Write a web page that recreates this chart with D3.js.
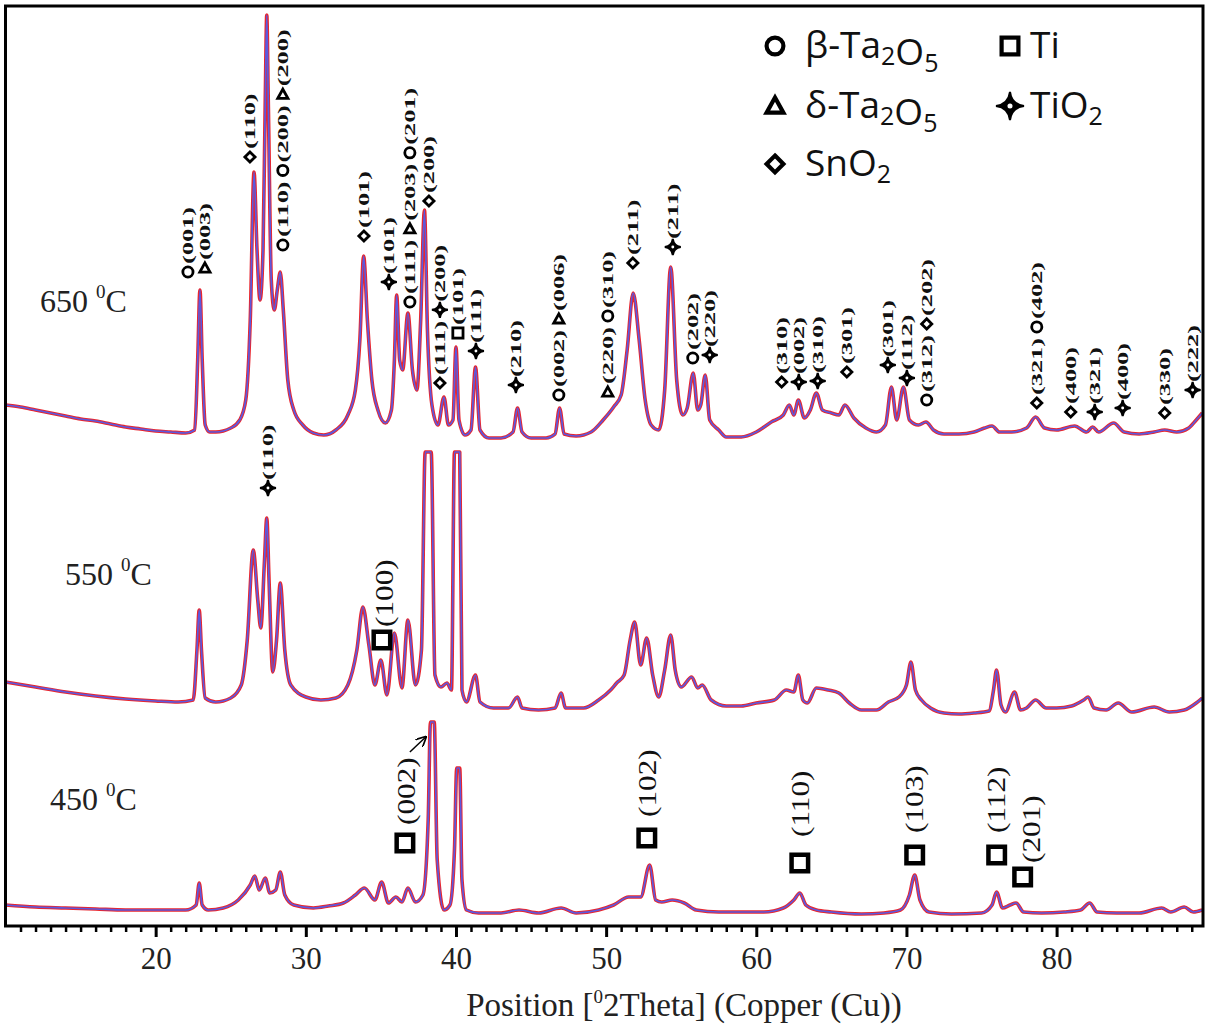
<!DOCTYPE html>
<html>
<head>
<meta charset="utf-8">
<script src="https://cdn.jsdelivr.net/npm/d3@7"></script>
<style>
    body { margin: 0; background: #fff; }
</style>
</head>
<body>
<div id="chart"></div>
<script>
// ---- data: [2theta, intensity (a.u.)] ----
const trace650 = [[10,35],[11,33],[12,30],[13,27],[14,24],[15,21],[16,19],[17,16],[18,13],[19,11],[20,9],[21,8],[22,7],
    [22.6,10],[22.8,80],[22.95,150],[23.1,80],[23.3,15],[23.6,8],[24,8],[25,12],[25.6,20],[26,40],[26.3,120],[26.55,268],
    [26.75,190],[26.95,140],[27.15,190],[27.3,340],[27.4,425],[27.5,340],[27.7,160],[27.9,130],[28.1,150],[28.3,168],
    [28.5,130],[28.8,60],[29.2,30],[29.8,15],[30.5,7],[31.2,5],[32,10],[32.8,25],[33.3,50],[33.6,100],[33.85,184],
    [34.1,120],[34.4,60],[34.8,30],[35.3,17],[35.7,30],[35.9,80],[36.05,145],[36.25,80],[36.45,70],[36.8,127],[37.1,70],
    [37.4,50],[37.65,120],[37.9,230],[38.1,110],[38.4,35],[38.8,15],[39.2,43],[39.5,15],[39.8,20],[40,93],[40.2,20],
    [40.6,5],[41,10],[41.3,73],[41.6,10],[42.2,2],[43,2],[43.8,8],[44.1,32],[44.4,8],[45,2],[46,2],[46.6,6],[46.9,32],
    [47.2,6],[48,4],[49,8],[49.8,20],[50.5,33],[51,45],[51.4,90],[51.8,147],[52.2,100],[52.6,40],[53,15],[53.5,10],
    [53.9,50],[54.3,173],[54.7,60],[55.1,25],[55.4,32],[55.8,67],[56.1,30],[56.3,35],[56.6,65],[56.9,20],[57.5,10],
    [58,3],[59,3],[60,8],[61,18],[61.8,25],[62.2,35],[62.5,25],[62.8,40],[63.2,22],[63.6,30],[64,47],[64.4,30],[65,27],
    [65.5,25],[65.9,35],[66.5,22],[67.3,12],[68,8],[68.6,15],[69,53],[69.35,20],[69.8,53],[70.2,20],[70.8,15],[71.3,18],
    [71.8,10],[72.5,6],[73.5,6],[74.5,8],[75.2,12],[75.7,14],[76.2,8],[77,8],[78,12],[78.6,23],[79.2,12],[80,10],
    [81.2,14],[82,8],[82.4,13],[82.8,8],[83.8,17],[84.5,8],[85.5,6],[86.5,8],[87.2,10],[88,8],[88.8,12],[89.3,20],[89.7,27]];

const trace550 = [[10,38],[12,33],[14,28],[16,24],[18,21],[20,19],[21.5,18],[22.5,20],[22.75,70],[22.9,110],[23.05,70],
    [23.3,22],[24,18],[25,22],[25.7,35],[26.1,80],[26.5,170],[26.8,120],[27,92],[27.25,160],[27.4,202],[27.55,140],
    [27.8,48],[28.05,80],[28.3,137],[28.6,70],[29,35],[30,23],[31,20],[32,22],[32.8,35],[33.4,70],[33.8,113],[34.2,75],
    [34.6,35],[35,60],[35.4,25],[35.9,87],[36.4,32],[36.8,100],[37.3,35],[37.7,70],[37.95,268],[38.35,268],[38.6,45],
    [39,33],[39.4,37],[39.7,30],[39.9,268],[40.25,268],[40.4,30],[40.7,18],[41.3,45],[41.6,18],[42.5,12],[43.5,12],
    [44.1,23],[44.4,12],[45.5,10],[46.6,12],[47,27],[47.3,12],[48.5,12],[49.5,20],[50.3,30],[50.7,37],[51.2,45],
    [51.6,80],[51.9,98],[52.3,55],[52.7,82],[53.1,45],[53.5,23],[53.9,50],[54.3,85],[54.6,50],[55,33],[55.7,43],
    [56.1,32],[56.4,35],[57,20],[58,14],[59,14],[60,17],[61.2,20],[62,30],[62.5,28],[62.8,45],[63.1,20],[63.4,17],
    [64,32],[64.8,30],[65.5,27],[66.2,17],[67,10],[68,10],[68.8,18],[69.5,23],[70,35],[70.3,58],[70.6,30],[71,20],
    [71.6,12],[72.5,7],[73.5,6],[74.5,7],[75.5,9],[75.8,30],[76,50],[76.3,15],[76.6,8],[77.2,28],[77.6,10],[78,12],
    [78.6,20],[79.3,12],[80,12],[81,14],[81.8,20],[82.1,23],[82.5,12],[83.3,10],[84.1,17],[85,8],[86.5,13],[87.5,8],
    [88.5,10],[89.3,17],[89.7,22]];

const trace450 = [[10,15],[12,13],[14,12],[16,11],[18,10],[20,10],[22,10],[22.7,15],[22.9,37],[23.1,15],[23.5,10],
    [24.5,12],[25.5,20],[26.3,35],[26.6,44],[26.9,30],[27.3,42],[27.6,27],[28,30],[28.3,48],[28.6,25],[29.2,15],
    [30.5,12],[31.5,14],[32.5,17],[33.3,25],[33.9,32],[34.6,20],[35.05,38],[35.5,17],[36,23],[36.4,18],[36.8,32],
    [37.3,18],[37.8,25],[38.15,100],[38.3,198],[38.55,198],[38.75,60],[39.2,10],[39.6,15],[39.9,70],[40.05,152],
    [40.25,152],[40.4,40],[40.7,10],[41.5,7],[43,7],[44.2,10],[45.5,7],[47,12],[48,7],[49.5,10],[50.5,15],[51.5,23],
    [52.3,23],[52.9,55],[53.3,20],[53.7,18],[54.4,20],[55.2,17],[56,10],[57.5,8],[59,8],[60.5,8],[61.8,12],[62.5,20],
    [62.9,27],[63.3,15],[64,10],[65,8],[67,6],[68.5,7],[69.6,10],[70.2,25],[70.55,45],[70.9,20],[71.5,8],[73,6],[75,7],
    [75.7,15],[76,28],[76.4,12],[76.9,15],[77.3,17],[77.8,8],[79,7],[80.5,8],[81.6,10],[82.2,17],[82.7,8],[84,7],
    [85.5,7],[87,12],[87.6,8],[88.5,13],[89.1,8],[89.7,10]];

const traces = [trace650, trace550, trace450];
const traceOffsets = [486, 206, 6];           // vertical stacking offsets (a.u.)
const tempNames = ["650", "550", "450"];
const tempPos = [[12.3, 614], [13.96, 341], [12.96, 116]];   // [2theta, level]

const majorTicks = [20, 30, 40, 50, 60, 70, 80];

// peak labels: [2theta, level of lowest symbol, [[phase symbol, hkl], ...]]
const peakLabels = [
    [22.15, 654, [["circle", "(001)"]]],
    [23.28, 658, [["triangle", "(003)"]]],
    [26.28, 769, [["diamond", "(110)"]]],
    [28.47, 681, [["circle", "(110)"], ["circle", "(200)"], ["triangle", "(200)"]]],
    [33.87, 690, [["diamond", "(101)"]]],
    [35.53, 644, [["star", "(101)"]]],
    [36.93, 624, [["circle", "(111)"], ["triangle", "(203)"], ["circle", "(201)"]]],
    [38.2, 725, [["diamond", "(200)"]]],
    [38.93, 543, [["diamond", "(111)"], ["star", "(200)"]]],
    [40.13, 593, [["square", "(101)"]]],
    [41.33, 575, [["star", "(111)"]]],
    [43.99, 541, [["star", "(210)"]]],
    [46.85, 531, [["circle", "(002)"], ["triangle", "(006)"]]],
    [50.11, 534, [["triangle", "(220)"], ["circle", "(310)"]]],
    [51.78, 663, [["diamond", "(211)"]]],
    [54.44, 679, [["star", "(211)"]]],
    [55.77, 568, [["circle", "(202)"]]],
    [56.9, 571, [["star", "(220)"]]],
    [61.69, 544, [["diamond", "(310)"]]],
    [62.83, 544, [["star", "(002)"]]],
    [64.09, 545, [["star", "(310)"]]],
    [66.03, 554, [["diamond", "(301)"]]],
    [68.76, 561, [["star", "(301)"]]],
    [70.03, 548, [["star", "(112)"]]],
    [71.35, 526, [["circle", "(312)"], ["diamond", "(202)"]]],
    [78.68, 523, [["diamond", "(321)"], ["circle", "(402)"]]],
    [80.94, 514, [["diamond", "(400)"]]],
    [82.54, 514, [["star", "(321)"]]],
    [84.4, 518, [["star", "(400)"]]],
    [87.2, 513, [["diamond", "(330)"]]],
    [89.06, 536, [["star", "(222)"]]],
    [27.48, 438, [["star", "(110)"]]]
];

// Ti labels on 550 / 450: [2theta square, level square, 2theta text, level text start, hkl]
const tiLabels = [
    [35.07, 286, 35.2, 299, "(100)"],
    [36.6, 83, 36.67, 101, "(002)"],
    [52.71, 88, 52.71, 109, "(102)"],
    [62.9, 63, 62.9, 89, "(110)"],
    [70.55, 71, 70.55, 93, "(103)"],
    [76.01, 71, 76.01, 93, "(112)"],
    [77.74, 49, 78.34, 63, "(201)"]
];
const arrow002 = [[36.93, 174], [37.99, 189]];

const legendSymbols = ["circle", "square", "triangle", "star", "diamond"];
const legendNames = ["β-Ta_2O_5", "Ti", "δ-Ta_2O_5", "TiO_2", "SnO_2"];

// ---- chart ----
const W = 1209, H = 1029;
const plot = {left: 5.5, right: 1203, top: 6, bottom: 926};

const svg = d3.select("#chart").append("svg")
    .attr("width", W)
    .attr("height", H);

const x = d3.scaleLinear().domain([10, 89.75]).range([plot.left, plot.right]);
const y = d3.scaleLinear().domain([0, 920]).range([plot.bottom, plot.top]);

svg.append("clipPath").attr("id", "clip")
    .append("rect")
    .attr("x", plot.left).attr("y", plot.top)
    .attr("width", plot.right - plot.left).attr("height", plot.bottom - plot.top);

// traces: red measured pattern under blue fit
const traceG = svg.append("g").attr("clip-path", "url(#clip)");
traces.forEach((tr, i) => {
    let line = d3.line()
        .curve(d3.curveMonotoneX)
        .x(d => x(d[0]))
        .y(d => y(d[1] + traceOffsets[i]));
    traceG.append("path").datum(tr)
        .attr("d", line)
        .attr("fill", "none")
        .attr("stroke", "#e8262e")
        .attr("stroke-width", 3.6)
        .attr("stroke-linejoin", "round");
    traceG.append("path").datum(tr)
        .attr("d", line)
        .attr("fill", "none")
        .attr("stroke", "#5a5ae0")
        .attr("stroke-width", 1.7)
        .attr("stroke-linejoin", "round");
});

// x axis with minor ticks every degree
const minorTicks = d3.range(11, 90).filter(v => v % 10 !== 0);
svg.append("g")
    .attr("transform", `translate(0, ${plot.bottom})`)
    .call(d3.axisBottom(x).tickValues(minorTicks).tickSize(6).tickFormat(""))
    .call(g => g.select(".domain").remove())
    .call(g => g.selectAll("line").attr("stroke", "#000").attr("stroke-width", 2.5));

svg.append("g")
    .attr("transform", `translate(0, ${plot.bottom})`)
    .call(d3.axisBottom(x).tickValues(majorTicks).tickSize(11).tickPadding(10))
    .call(g => g.select(".domain").remove())
    .call(g => g.selectAll("line").attr("stroke", "#000").attr("stroke-width", 3))
    .call(g => g.selectAll("text")
        .attr("font-family", "Liberation Serif, serif")
        .attr("font-size", 31)
        .attr("fill", "#222"));

// frame
svg.append("rect")
    .attr("x", plot.left).attr("y", plot.top)
    .attr("width", plot.right - plot.left).attr("height", plot.bottom - plot.top)
    .attr("fill", "none")
    .attr("stroke", "#000")
    .attr("stroke-width", 3);

// axis title
const title = svg.append("text")
    .attr("x", 684)
    .attr("y", 1016)
    .attr("text-anchor", "middle")
    .attr("font-family", "Liberation Serif, serif")
    .attr("font-size", 33)
    .attr("fill", "#222");
title.append("tspan").text("Position [");
title.append("tspan").attr("font-size", 19).attr("dy", -13).text("0");
title.append("tspan").attr("dy", 13).text("2Theta] (Copper (Cu))");

// temperature labels
tempNames.forEach((t, i) => {
    let txt = svg.append("text")
        .attr("x", x(tempPos[i][0]))
        .attr("y", y(tempPos[i][1]))
        .attr("font-family", "Liberation Serif, serif")
        .attr("font-size", 32)
        .attr("fill", "#222");
    txt.append("tspan").text(t + " ");
    txt.append("tspan").attr("font-size", 19).attr("dy", -14).text("0");
    txt.append("tspan").attr("dy", 14).text("C");
});

// phase symbols
function drawSymbol(g, type, cx, cy, s, sw) {
    let r = s / 2;
    if (type === "circle") {
        g.append("circle").attr("cx", cx).attr("cy", cy).attr("r", r - sw / 2)
            .attr("fill", "#fff").attr("stroke", "#000").attr("stroke-width", sw);
    } else if (type === "square") {
        g.append("rect").attr("x", cx - r + sw / 2).attr("y", cy - r + sw / 2)
            .attr("width", s - sw).attr("height", s - sw)
            .attr("fill", "#fff").attr("stroke", "#000").attr("stroke-width", sw);
    } else if (type === "diamond") {
        let q = r - sw / 2;
        g.append("path").attr("d", `M${cx},${cy - q}L${cx + q},${cy}L${cx},${cy + q}L${cx - q},${cy}Z`)
            .attr("fill", "#fff").attr("stroke", "#000").attr("stroke-width", sw).attr("stroke-linejoin", "miter");
    } else if (type === "triangle") {
        let q = r - sw / 2;
        g.append("path").attr("d", `M${cx},${cy - q}L${cx + q},${cy + q * 0.8}L${cx - q},${cy + q * 0.8}Z`)
            .attr("fill", "#fff").attr("stroke", "#000").attr("stroke-width", sw).attr("stroke-linejoin", "miter");
    } else if (type === "star") {
        let k = r * 0.28;
        g.append("path")
            .attr("d", `M${cx},${cy - r}Q${cx + k * 0.4},${cy - k * 0.4} ${cx + r},${cy}` +
                `Q${cx + k * 0.4},${cy + k * 0.4} ${cx},${cy + r}` +
                `Q${cx - k * 0.4},${cy + k * 0.4} ${cx - r},${cy}` +
                `Q${cx - k * 0.4},${cy - k * 0.4} ${cx},${cy - r}Z`)
            .attr("fill", "#000").attr("stroke", "#000").attr("stroke-width", 2);
        g.append("circle").attr("cx", cx).attr("cy", cy).attr("r", r * 0.18).attr("fill", "#fff");
    }
}

// small rotated peak labels
const labelG = svg.append("g");
peakLabels.forEach(([th, lev, items]) => {
    let cx = x(th), cy = y(lev);
    let pos = 0;
    items.forEach(([sym, hkl]) => {
        drawSymbol(labelG, sym, cx, cy - pos, sym === "star" ? 16 : 13, 2.8);
        pos += 8;
        let t = labelG.append("text")
            .attr("transform", `translate(${cx}, ${cy - pos}) rotate(-90) scale(1.7, 1)`)
            .attr("dy", "0.35em")
            .attr("font-family", "Liberation Serif, serif")
            .attr("font-weight", "bold")
            .attr("font-size", 15.5)
            .attr("fill", "#111")
            .text(hkl);
        pos += t.node().getComputedTextLength() * 1.7 + 11;
    });
});

// Ti labels
tiLabels.forEach(([th, lev, tth, tlev, hkl]) => {
    drawSymbol(labelG, "square", x(th), y(lev), 21, 4.5);
    labelG.append("text")
        .attr("transform", `translate(${x(tth)}, ${y(tlev)}) rotate(-90) scale(1.25, 1)`)
        .attr("dy", "0.35em")
        .attr("font-family", "Liberation Serif, serif")
        .attr("font-size", 25)
        .attr("fill", "#111")
        .text(hkl);
});

// arrow pointing at the Ti (002) peak
svg.append("defs").append("marker")
    .attr("id", "arrowhead")
    .attr("viewBox", "0 0 10 10").attr("refX", 9).attr("refY", 5)
    .attr("markerWidth", 7).attr("markerHeight", 7).attr("orient", "auto")
    .append("path").attr("d", "M0,0L10,5L0,10").attr("fill", "none").attr("stroke", "#000").attr("stroke-width", 1.6);
svg.append("line")
    .attr("x1", x(arrow002[0][0])).attr("y1", y(arrow002[0][1]))
    .attr("x2", x(arrow002[1][0])).attr("y2", y(arrow002[1][1]))
    .attr("stroke", "#000").attr("stroke-width", 1.5)
    .attr("marker-end", "url(#arrowhead)");

// legend
const legendCols = [775, 1010];
const legendRows = [46, 106, 164];
const legendGap = [30, 20];
const legend = svg.append("g");
legendSymbols.forEach((sym, i) => {
    let col = i < 4 ? i % 2 : 0;
    let row = Math.floor(i / 2);
    let sx = legendCols[col], sy = legendRows[row];
    drawSymbol(legend, sym, sx, sy, sym === "star" ? 28 : 21, 4.2);
    let txt = legend.append("text")
        .attr("x", sx + legendGap[col])
        .attr("y", sy + 12)
        .attr("font-family", "Open Sans, sans-serif")
        .attr("font-size", 37)
        .attr("fill", "#111");
    // underscore marks a one-digit subscript
    legendNames[i].split(/(_\d)/).filter(s => s.length).forEach(part => {
        if (part[0] === "_") {
            txt.append("tspan").attr("font-size", 25).attr("dy", 7).text(part[1]);
            txt.append("tspan").attr("dy", -7).text("");
        } else {
            txt.append("tspan").text(part);
        }
    });
});
</script>
</body>
</html>
